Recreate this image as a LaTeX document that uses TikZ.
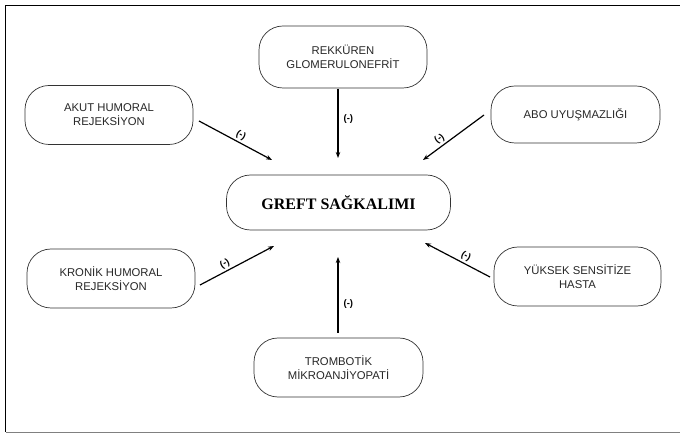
\documentclass[tikz,border=0pt]{standalone}
\usepackage{fontspec}
\setmainfont{Liberation Serif}
\setsansfont{Liberation Sans}
\usetikzlibrary{arrows.meta,calc}
\begin{document}
\begin{tikzpicture}[x=1pt,y=-1pt,
  box/.style={draw=black!80,line width=0.7pt,rounded corners=24pt,minimum width=168pt,minimum height=59pt,align=center,text=black!85,font=\sffamily\fontsize{11.3}{14}\selectfont,inner sep=0pt},
  mainbox/.style={box,minimum width=224pt,minimum height=55pt,text=black,font=\rmfamily\bfseries\fontsize{16}{18}\selectfont},
  conn/.style={line width=1.2pt,-{Stealth[length=6pt,width=4.5pt]}},
  lbl/.style={font=\sffamily\bfseries\fontsize{9.5}{10}\selectfont,inner sep=1pt}]
\useasboundingbox (0,0) rectangle (680,435);
\draw[line width=0.8pt] (680,5.5) -- (5.5,5.5) -- (5.5,432);
\draw[line width=0.8pt,black!50] (5.5,432) -- (680,432);

\node[mainbox] (greft) at (338.5,202.5) {GREFT SAĞKALIMI};
\node[box,minimum height=62pt] (rek) at (343,57) {REKKÜREN\\GLOMERULONEFRİT};
\node[box] (akut) at (109,115) {AKUT HUMORAL\\REJEKSİYON};
\node[box,minimum width=169pt,minimum height=57pt] (abo) at (575.5,114.5) {ABO UYUŞMAZLIĞI};
\node[box] (kron) at (111,278.5) {KRONİK HUMORAL\\REJEKSİYON};
\node[box,minimum width=167pt] (yuk) at (577.5,276.5) {YÜKSEK SENSİTİZE\\HASTA};
\node[box,minimum width=169pt] (trom) at (338.5,367.5) {TROMBOTİK\\MİKROANJİYOPATİ};

\coordinate (a1) at (199,121);  \coordinate (a2) at (272,160);
\coordinate (r1) at (338,89);   \coordinate (r2) at (338,158);
\coordinate (b1) at (484,115);  \coordinate (b2) at (423,160);
\coordinate (k1) at (200,285);  \coordinate (k2) at (274,246);
\coordinate (y1) at (490,277);  \coordinate (y2) at (425,243);
\coordinate (t1) at (338,333);  \coordinate (t2) at (338,257);

\draw[conn] (a1) -- node[lbl,sloped,above=1pt,pos=0.53] {(-)} (a2);
\draw[conn] (r1) -- node[lbl,right=4pt,pos=0.43] {(-)} (r2);
\draw[conn] (b1) -- node[lbl,sloped,above=1pt,pos=0.66] {(-)} (b2);
\draw[conn] (k1) -- node[lbl,sloped,above=1pt,pos=0.38] {(-)} (k2);
\draw[conn] (y1) -- node[lbl,sloped,above=1pt,pos=0.42] {(-)} (y2);
\draw[conn] (t1) -- node[lbl,right=4pt,pos=0.38] {(-)} (t2);
\end{tikzpicture}
\end{document}
